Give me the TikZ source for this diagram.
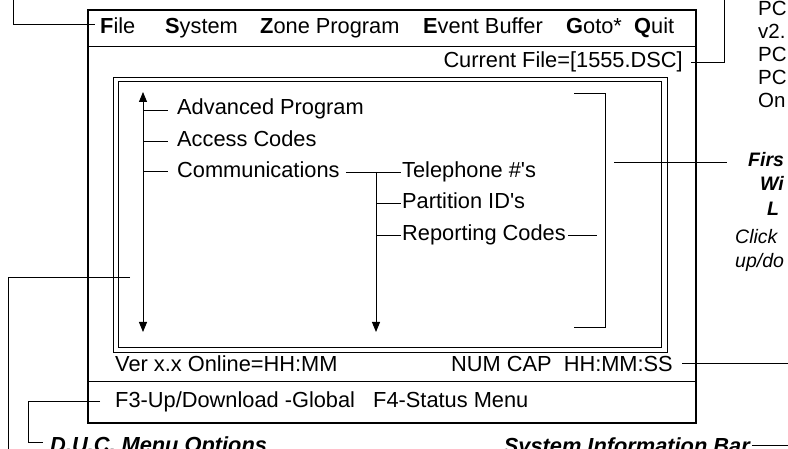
\documentclass[tikz,border=0pt]{standalone}
\usepackage{fontspec}
\setmainfont{Liberation Sans}
\usetikzlibrary{arrows.meta}
\begin{document}
\begin{tikzpicture}[x=1pt,y=-1pt,
  txt/.style={inner sep=0pt, anchor=base west, font=\fontsize{21.8}{24}\selectfont},
  txte/.style={txt, anchor=base east},
  callout/.style={inner sep=0pt, anchor=base west, font=\fontsize{21.8}{24}\selectfont\bfseries\itshape},
  side/.style={inner sep=0pt, anchor=base west, font=\fontsize{20.5}{22}\selectfont},
  lead/.style={line width=0.9pt},
  frame/.style={line width=2pt},
  thin/.style={line width=0.9pt},
  scroll/.style={line width=0.9pt, {Triangle[length=10pt,width=8pt]}-{Triangle[length=10pt,width=8pt]}},
  down/.style={line width=0.9pt, -{Triangle[length=10pt,width=8pt]}}
]
\useasboundingbox (0,0) rectangle (788,449);

% main window
\draw[frame] (88,10) rectangle (696,423);
\draw[thin] (88,46) -- (696,46);
\draw[thin] (88,381) -- (696,381);
\draw[thin] (113,77) rectangle (667,352);
\draw[thin] (118,81) rectangle (661,347);

% menu bar
\node[txt] (mFile) at (100,34) {\textbf{F}ile};
\node[txt] (mSys) at (165,34) {\textbf{S}ystem};
\node[txt] (mZone) at (260,34) {\textbf{Z}one Program};
\node[txt] (mEvent) at (423,34) {\textbf{E}vent Buffer};
\node[txt] (mGoto) at (566,34) {\textbf{G}oto*};
\node[txt] (mQuit) at (634,34) {\textbf{Q}uit};
\node[txte] (curfile) at (683,68) {Current File=[1555.DSC]};

% tree
\node[txt] (adv) at (177,115) {Advanced Program};
\node[txt] (acc) at (177,147) {Access Codes};
\node[txt] (comm) at (177,178) {Communications};
\node[txt] (tel) at (402,178) {Telephone \#\textquotesingle s};
\node[txt] (part) at (402,209) {Partition ID\textquotesingle s};
\node[txt] (rep) at (402,241) {Reporting Codes};

\coordinate (sTop) at (143,92);
\coordinate (sBot) at (143,332);
\draw[scroll] (sBot) -- (sTop);
\coordinate (bA) at (143,110);
\coordinate (bB) at (143,141.5);
\coordinate (bC) at (143,171);
\draw[thin] (bA) -- ([xshift=-9pt]adv.west |- bA);
\draw[thin] (bB) -- ([xshift=-9pt]acc.west |- bB);
\draw[thin] (bC) -- ([xshift=-9pt]comm.west |- bC);

\coordinate (vTop) at (376,172);
\coordinate (vBot) at (376,332);
\draw[thin] ([xshift=6pt]comm.east |- vTop) -- (vTop);
\draw[down] (vTop) -- (vBot);
\draw[thin] (vTop) -- ([xshift=-1pt]tel.west |- vTop);
\coordinate (vP) at (376,203);
\coordinate (vR) at (376,235);
\draw[thin] (vP) -- ([xshift=-1pt]part.west |- vP);
\draw[thin] (vR) -- ([xshift=-1pt]rep.west |- vR);
\coordinate (repEnd) at (597,235);
\draw[thin] ([xshift=2pt]rep.east |- repEnd) -- (repEnd);

% right bracket
\coordinate (brT) at (605,93);
\coordinate (brB) at (605,327);
\draw[thin] (574,93) -- (brT) -- (brB) -- (574,327);

% status line
\node[txt] (ver) at (115,372) {Ver x.x Online=HH:MM};
\node[txte] (num) at (673,372) {NUM CAP\ \ HH:MM:SS};
\node[txt] (fkeys) at (115,407) {F3-Up/Download -Global\ \ \ F4-Status Menu};

% callouts
\node[callout] (duc) at (50,452) {D.U.C. Menu Options};
\node[callout, anchor=base east] (sib) at (750,453) {System Information Bar};

\node[side] (pc1) at (758,16) {PC};
\node[side] (v2) at (758,38.5) {v2.};
\node[side] (pc2) at (758,62) {PC};
\node[side] (pc3) at (758,85) {PC};
\node[side] (on) at (758,108) {On};

\node[side, font=\fontsize{19.5}{22}\selectfont\bfseries\itshape] (first) at (748,167) {Firs};
\node[side, font=\fontsize{19.5}{22}\selectfont\bfseries\itshape] (wi) at (760,191) {Wi};
\node[side, font=\fontsize{19.5}{22}\selectfont\bfseries\itshape] (ll) at (767,216) {L};
\node[side, font=\fontsize{19.5}{22}\selectfont\itshape] (click) at (735,244) {Click};
\node[side, font=\fontsize{19.5}{22}\selectfont\itshape] (updo) at (735,268) {up/do};

% leader lines
\coordinate (tlA) at (13,0);
\coordinate (tlB) at (95,24);
\draw[lead] (tlA) |- (tlB);

\coordinate (cfA) at (691,62);
\coordinate (cfB) at (724,0);
\draw[lead] (cfA) -| (cfB);

\coordinate (frA) at (614,162);
\coordinate (frB) at (727,162);
\draw[lead] (frA) -- (frB);

\coordinate (nmA) at (682,363);
\coordinate (nmB) at (788,363);
\draw[lead] (nmA) -- (nmB);

\coordinate (lbA) at (130,277);
\coordinate (lbB) at (8,449);
\draw[lead] (lbA) -| (lbB);

\coordinate (dcA) at (100,401);
\coordinate (dcB) at (28,442);
\draw[lead] (dcA) -| (dcB) -- ([xshift=-7pt]duc.west |- dcB);

\coordinate (sbA) at (788,445);
\draw[lead] ([xshift=2pt]sib.east |- sbA) -- (sbA);
\end{tikzpicture}
\end{document}
